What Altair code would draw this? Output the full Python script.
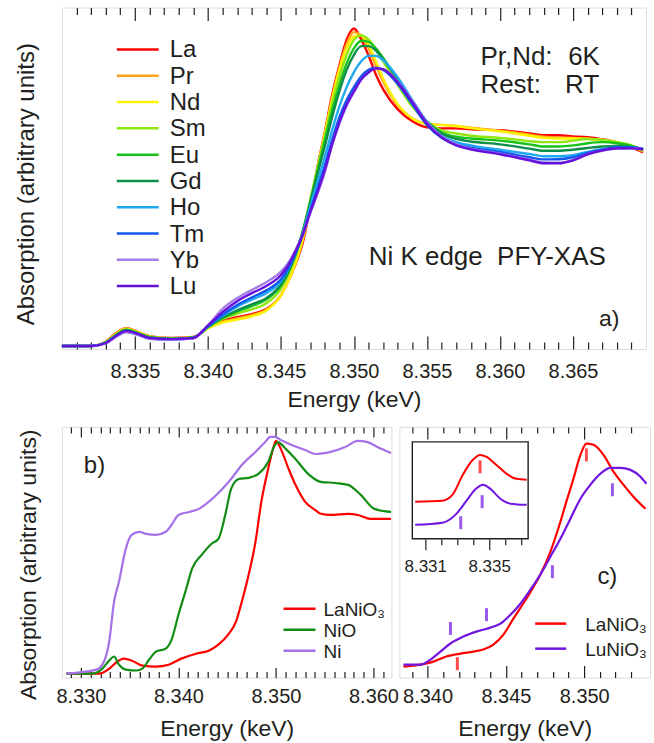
import altair as alt
import pandas as pd

FONT = "Liberation Sans"
INK = "#231f20"

# ---------------- panel a) : Ni K edge PFY-XAS of RNiO3 ----------------
TOP_SAMPLES = ["La", "Pr", "Nd", "Sm", "Eu", "Gd", "Ho", "Tm", "Yb", "Lu"]
TOP_COLORS = ["#ff0000", "#ffa21c", "#fff200", "#8ee80f", "#19c219", "#0b8f4a",
              "#1fa9f2", "#1257ee", "#a57fe8", "#6510dc"]
TOP_E = [8.3300, 8.3320, 8.3330, 8.3337, 8.3344, 8.3352, 8.3360, 8.3375, 8.3390,
         8.3400, 8.3410, 8.3420, 8.3430, 8.3440, 8.3450, 8.3455, 8.3460, 8.3465,
         8.3470, 8.3475, 8.3480, 8.3485, 8.3490, 8.3495, 8.3500, 8.3505, 8.3510,
         8.3515, 8.3520, 8.3530, 8.3540, 8.3550, 8.3560, 8.3570, 8.3580, 8.3600,
         8.3620, 8.3630, 8.3640, 8.3650, 8.3660, 8.3670, 8.3680, 8.3690, 8.3698]
A_LA = [0.0, 0.0, 0.02, 0.06, 0.083, 0.065, 0.046, 0.037, 0.042, 0.085, 0.116, 0.134,
        0.148, 0.171, 0.236, 0.30, 0.38, 0.48, 0.645, 0.83, 0.99, 1.162, 1.30, 1.42,
        1.472, 1.42, 1.347, 1.259, 1.19, 1.097, 1.042, 1.014, 1.009, 1.009, 1.005, 1.0,
        0.986, 0.977, 0.977, 0.972, 0.968, 0.958, 0.944, 0.921, 0.898]
A_PR = [0.0, 0.0, 0.019, 0.058, 0.082, 0.064, 0.045, 0.036, 0.041, 0.084, 0.112, 0.128,
        0.143, 0.168, 0.235, 0.30, 0.382, 0.49, 0.65, 0.825, 0.985, 1.15, 1.29, 1.40,
        1.455, 1.44, 1.38, 1.30, 1.225, 1.115, 1.055, 1.03, 1.025, 1.02, 1.012, 0.998,
        0.98, 0.97, 0.966, 0.965, 0.962, 0.955, 0.943, 0.925, 0.902]
A_ND = [0.0, 0.0, 0.018, 0.056, 0.08, 0.063, 0.045, 0.036, 0.04, 0.082, 0.108, 0.122,
        0.138, 0.165, 0.235, 0.30, 0.385, 0.50, 0.655, 0.82, 0.98, 1.14, 1.28, 1.38,
        1.435, 1.44, 1.395, 1.32, 1.24, 1.12, 1.055, 1.03, 1.025, 1.02, 1.01, 0.995,
        0.975, 0.965, 0.962, 0.962, 0.96, 0.955, 0.945, 0.928, 0.905]
A_SM = [0.0, 0.0, 0.017, 0.053, 0.077, 0.061, 0.043, 0.035, 0.04, 0.087, 0.125, 0.15,
        0.17, 0.198, 0.265, 0.33, 0.415, 0.53, 0.675, 0.825, 0.97, 1.12, 1.25, 1.35,
        1.42, 1.44, 1.42, 1.375, 1.32, 1.21, 1.11, 1.04, 1.0, 0.985, 0.975, 0.965,
        0.95, 0.945, 0.945, 0.952, 0.96, 0.955, 0.945, 0.93, 0.905]
A_EU = [0.0, 0.0, 0.016, 0.05, 0.075, 0.059, 0.041, 0.034, 0.04, 0.088, 0.13, 0.16,
        0.185, 0.215, 0.28, 0.34, 0.425, 0.535, 0.67, 0.81, 0.95, 1.09, 1.21, 1.31,
        1.38, 1.415, 1.41, 1.38, 1.335, 1.23, 1.12, 1.04, 0.99, 0.97, 0.962, 0.952,
        0.935, 0.925, 0.925, 0.93, 0.94, 0.945, 0.94, 0.928, 0.91]
A_GD = [0.0, 0.0, 0.016, 0.05, 0.074, 0.058, 0.04, 0.033, 0.039, 0.088, 0.132, 0.165,
        0.193, 0.222, 0.285, 0.345, 0.425, 0.53, 0.66, 0.795, 0.925, 1.06, 1.18, 1.28,
        1.35, 1.39, 1.39, 1.37, 1.33, 1.235, 1.13, 1.04, 0.985, 0.96, 0.948, 0.935,
        0.915, 0.905, 0.905, 0.91, 0.918, 0.925, 0.928, 0.922, 0.91]
A_HO = [0.0, 0.0, 0.015, 0.046, 0.068, 0.054, 0.036, 0.032, 0.038, 0.09, 0.14, 0.182,
        0.215, 0.245, 0.30, 0.355, 0.43, 0.525, 0.645, 0.76, 0.875, 1.0, 1.11, 1.2,
        1.27, 1.32, 1.345, 1.345, 1.325, 1.245, 1.14, 1.04, 0.975, 0.945, 0.93, 0.91,
        0.89, 0.88, 0.88, 0.885, 0.9, 0.912, 0.92, 0.92, 0.912]
A_TM = [0.0, 0.0, 0.014, 0.044, 0.066, 0.052, 0.035, 0.031, 0.037, 0.092, 0.145, 0.19,
        0.225, 0.258, 0.31, 0.36, 0.43, 0.515, 0.625, 0.73, 0.835, 0.955, 1.06, 1.14,
        1.2, 1.25, 1.28, 1.29, 1.28, 1.215, 1.12, 1.025, 0.965, 0.935, 0.92, 0.9,
        0.875, 0.865, 0.866, 0.875, 0.895, 0.91, 0.92, 0.92, 0.914]
A_YB = [0.0, 0.0, 0.012, 0.042, 0.065, 0.052, 0.034, 0.03, 0.036, 0.097, 0.172, 0.222,
        0.26, 0.296, 0.345, 0.385, 0.445, 0.52, 0.615, 0.705, 0.805, 0.93, 1.03, 1.115,
        1.178, 1.235, 1.268, 1.287, 1.283, 1.225, 1.135, 1.037, 0.972, 0.935, 0.915,
        0.892, 0.865, 0.851, 0.85, 0.862, 0.889, 0.905, 0.915, 0.917, 0.912]
A_LU = [0.0, 0.0, 0.014, 0.046, 0.07, 0.056, 0.037, 0.032, 0.037, 0.095, 0.157, 0.208,
        0.245, 0.278, 0.329, 0.375, 0.44, 0.518, 0.62, 0.713, 0.815, 0.935, 1.037, 1.12,
        1.18, 1.236, 1.269, 1.287, 1.282, 1.222, 1.13, 1.032, 0.968, 0.93, 0.912, 0.889,
        0.861, 0.847, 0.847, 0.861, 0.889, 0.907, 0.917, 0.917, 0.912]
TOP_SERIES = [A_LA, A_PR, A_ND, A_SM, A_EU, A_GD, A_HO, A_TM, A_YB, A_LU]
TOP_MAJOR = [8.335, 8.340, 8.345, 8.350, 8.355, 8.360, 8.365]
TOP_XDOM = [8.330, 8.370]
TOP_YDOM = [-0.014, 1.569]

# ---------------- panel b) : LaNiO3, NiO, Ni ----------------
B_SAMPLES = ["LaNiO\u2083", "NiO", "Ni"]
B_COLORS = ["#ff0000", "#128c12", "#a571e6"]
B_LANIO3_E = [8.3285, 8.3319, 8.3329, 8.3336, 8.3344, 8.3352, 8.3363, 8.3377, 8.3390,
              8.3403, 8.3418, 8.3431, 8.3441, 8.3451, 8.3459, 8.3465, 8.3472, 8.3479,
              8.3485, 8.3492, 8.3497, 8.3500, 8.3505, 8.3513, 8.3520, 8.3530, 8.3540,
              8.3546, 8.3556, 8.3574, 8.3584, 8.3597, 8.3618]
B_LANIO3_A = [0.0, 0.0, 0.021, 0.047, 0.064, 0.056, 0.034, 0.03, 0.038, 0.064, 0.085,
              0.098, 0.124, 0.167, 0.222, 0.308, 0.423, 0.564, 0.735, 0.876, 0.962, 0.996,
              0.962, 0.876, 0.808, 0.735, 0.701, 0.684, 0.679, 0.684, 0.679, 0.662, 0.662]
B_NIO_E = [8.3285, 8.3312, 8.3322, 8.3329, 8.3334, 8.3339, 8.3346, 8.3357, 8.3363,
           8.3370, 8.3377, 8.3387, 8.3393, 8.3400, 8.3408, 8.3414, 8.3424, 8.3434,
           8.3441, 8.3448, 8.3454, 8.3462, 8.3472, 8.3482, 8.3492, 8.3499, 8.3502,
           8.3510, 8.3520, 8.3533, 8.3546, 8.3561, 8.3574, 8.3587, 8.3601, 8.3618]
B_NIO_A = [0.0, 0.0, 0.021, 0.056, 0.073, 0.038, 0.017, 0.013, 0.021, 0.06, 0.094, 0.107,
           0.145, 0.252, 0.363, 0.449, 0.509, 0.556, 0.577, 0.679, 0.791, 0.833, 0.838,
           0.855, 0.906, 0.979, 0.991, 0.962, 0.919, 0.855, 0.821, 0.816, 0.808, 0.765,
           0.705, 0.692]
B_NI_E = [8.3285, 8.3316, 8.3322, 8.3329, 8.3334, 8.3339, 8.3346, 8.3352, 8.3360,
          8.3367, 8.3377, 8.3387, 8.3393, 8.3400, 8.3411, 8.3421, 8.3431, 8.3444,
          8.3454, 8.3465, 8.3479, 8.3489, 8.3494, 8.3499, 8.3505, 8.3516, 8.3530,
          8.3541, 8.3556, 8.3571, 8.3584, 8.3594, 8.3604, 8.3618]
B_NI_A = [0.0, 0.017, 0.038, 0.137, 0.308, 0.393, 0.534, 0.594, 0.607, 0.598, 0.594,
          0.607, 0.637, 0.679, 0.692, 0.705, 0.735, 0.786, 0.833, 0.893, 0.949, 0.991,
          1.013, 1.013, 1.0, 0.979, 0.957, 0.94, 0.949, 0.97, 0.996, 0.991, 0.97, 0.944]
B_MAJOR = [8.330, 8.340, 8.350, 8.360]
B_XDOM = [8.32805, 8.36184]
B_YDOM = [-0.017, 1.056]

# ---------------- panel c) : LaNiO3 vs LuNiO3 ----------------
C_SAMPLES = ["LaNiO\u2083", "LuNiO\u2083"]
C_COLORS = ["#ff0000", "#7014e0"]
C_LA_E = [8.33846, 8.33954, 8.34037, 8.34120, 8.34210, 8.34293, 8.34356, 8.34420,
          8.34484, 8.34548, 8.34631, 8.34720, 8.34784, 8.34848, 8.34886, 8.34931,
          8.34976, 8.35014, 8.35059, 8.35123, 8.35187, 8.35250, 8.35314, 8.35391]
C_LA_A = [0.0, 0.009, 0.022, 0.045, 0.058, 0.067, 0.076, 0.098, 0.143, 0.214, 0.304,
          0.411, 0.513, 0.647, 0.737, 0.839, 0.946, 0.996, 0.991, 0.946, 0.871, 0.813,
          0.759, 0.705]
C_LU_E = [8.33846, 8.33954, 8.34018, 8.34082, 8.34146, 8.34229, 8.34312, 8.34401,
          8.34465, 8.34529, 8.34593, 8.34657, 8.34720, 8.34784, 8.34848, 8.34912,
          8.34976, 8.35040, 8.35104, 8.35167, 8.35231, 8.35295, 8.35359, 8.35397]
C_LU_A = [0.009, 0.009, 0.031, 0.067, 0.103, 0.134, 0.156, 0.174, 0.192, 0.232, 0.281,
          0.344, 0.411, 0.491, 0.571, 0.661, 0.75, 0.813, 0.862, 0.888, 0.888, 0.879,
          0.848, 0.817]
C_MARK_E = [8.35014, 8.34190, 8.35180, 8.34797, 8.34376, 8.34146]
C_MARK_A = [0.946, 0.013, 0.79, 0.424, 0.232, 0.17]
C_MARK_S = ["LaNiO\u2083", "LaNiO\u2083", "LuNiO\u2083", "LuNiO\u2083", "LuNiO\u2083", "LuNiO\u2083"]
C_MAJOR = [8.340, 8.345, 8.350]
C_XDOM = [8.3382, 8.3542]
C_YDOM = [-0.049, 1.071]

# inset of panel c) : pre-edge (same arbitrary absorption units as panel c)
INS_LA_E = [8.33037, 8.33208, 8.33271, 8.33335, 8.33398, 8.33443, 8.33481, 8.33544,
            8.33608, 8.33671, 8.33735]
INS_LA_A = [0.737, 0.741, 0.768, 0.857, 0.924, 0.946, 0.938, 0.902, 0.862, 0.839, 0.835]
INS_LU_E = [8.33037, 8.33208, 8.33290, 8.33354, 8.33417, 8.33462, 8.33506, 8.33570,
            8.33633, 8.33735]
INS_LU_A = [0.634, 0.643, 0.679, 0.737, 0.795, 0.813, 0.795, 0.75, 0.728, 0.723]
INS_MARK_E = [8.33443, 8.33456, 8.33322]
INS_MARK_A = [0.893, 0.737, 0.643]
INS_MARK_S = ["LaNiO\u2083", "LuNiO\u2083", "LuNiO\u2083"]
INS_MAJOR = [8.331, 8.335]
INS_BOX_E = [8.33019, 8.33744]
INS_BOX_A = [0.571, 1.004]
INS_XDOM = [8.32938, 8.34507]   # 16 px per eV; inset box spans 13..129 px of panel c

Y_TITLE = "Absorption (arbitrary units)"
X_TITLE = "Energy (keV)"


def minor_ticks(lo, hi, majors):
    out = []
    k = int(round(lo * 1000))
    while k <= int(round(hi * 1000)):
        v = round(k / 1000.0, 3)
        if all(abs(v - m) > 1e-7 for m in majors):
            out.append(v)
        k += 1
    return out


def frame_from(energies_list, values_list, names):
    rows = []
    for name, es, vs in zip(names, energies_list, values_list):
        for e, a in zip(es, vs):
            rows.append({"E": e, "A": a, "Sample": name})
    return pd.DataFrame(rows)


def axis_layer(vals, xscale, yscale, ybase, orient, size, offset, labels=False, title=None,
               label_size=20, label_pad=10, title_size=23, title_pad=8):
    kw = dict(orient=orient, values=vals, tickSize=size, offset=offset, domain=False,
              grid=False, ticks=True, tickColor=INK, tickWidth=1.2, labels=labels,
              minExtent=0)
    if labels:
        kw.update(format=".3f", labelFont=FONT, labelFontSize=label_size, labelColor=INK,
                  labelPadding=label_pad, labelFlush=False, labelOverlap=False)
    if title:
        kw.update(titleFont=FONT, titleFontSize=title_size, titleFontWeight="normal",
                  titleColor=INK, titlePadding=title_pad)
    df = pd.DataFrame({"tick": vals, "base": [ybase] * len(vals)})
    return alt.Chart(df).mark_point(opacity=0).encode(
        x=alt.X("tick:Q", scale=xscale, axis=alt.Axis(**kw), title=title),
        y=alt.Y("base:Q", scale=yscale, axis=None),
    )


def note(text, e, a, size, xscale, yscale, angle=0, align="left", baseline="alphabetic"):
    df = pd.DataFrame({"t": [text], "E": [e], "A": [a]})
    return alt.Chart(df).mark_text(
        font=FONT, fontSize=size, color=INK, align=align, baseline=baseline, angle=angle
    ).encode(
        text="t:N",
        x=alt.X("E:Q", scale=xscale, axis=None),
        y=alt.Y("A:Q", scale=yscale, axis=None),
    )


def key_layers(names, cscale, e_from, e_to, e_text, a_first, a_step, size, xscale, yscale):
    """Line-sample key drawn in the panel's own coordinates."""
    df = pd.DataFrame({
        "Sample": names,
        "E1": [e_from] * len(names),
        "E2": [e_to] * len(names),
        "ET": [e_text] * len(names),
        "A": [a_first - i * a_step for i in range(len(names))],
    })
    rules = alt.Chart(df).mark_rule(strokeWidth=2.5).encode(
        x=alt.X("E1:Q", scale=xscale, axis=None),
        x2="E2:Q",
        y=alt.Y("A:Q", scale=yscale, axis=None),
        color=alt.Color("Sample:N", scale=cscale, legend=None),
    )
    texts = alt.Chart(df).mark_text(
        font=FONT, fontSize=size, color=INK, align="left", baseline="middle", dy=1
    ).encode(
        text="Sample:N",
        x=alt.X("ET:Q", scale=xscale, axis=None),
        y=alt.Y("A:Q", scale=yscale, axis=None),
    )
    return [rules, texts]


# ---------------- build panel a) ----------------
top_df = frame_from([TOP_E] * len(TOP_SAMPLES), TOP_SERIES, TOP_SAMPLES)
top_x = alt.Scale(domain=TOP_XDOM, nice=False, zero=False)
top_y = alt.Scale(domain=TOP_YDOM, nice=False, zero=False)
top_c = alt.Scale(domain=TOP_SAMPLES, range=TOP_COLORS)
top_lines = alt.Chart(top_df).mark_line(strokeWidth=2.4, interpolate="monotone").encode(
    x=alt.X("E:Q", scale=top_x, axis=None),
    y=alt.Y("A:Q", scale=top_y, axis=None),
    color=alt.Color("Sample:N", scale=top_c, legend=None),
)
top_minor = minor_ticks(8.331, 8.369, TOP_MAJOR)
yb = TOP_YDOM[0]
top = alt.layer(
    top_lines,
    *key_layers(TOP_SAMPLES, top_c, 8.33376, 8.33663, 8.33738, 1.3746, 0.12188, 24,
                top_x, top_y),
    axis_layer(TOP_MAJOR, top_x, top_y, yb, "bottom", 13, -13, labels=True,
               title=X_TITLE, label_pad=13, title_pad=7),
    axis_layer(top_minor, top_x, top_y, yb, "bottom", 7, -7),
    axis_layer(TOP_MAJOR, top_x, top_y, yb, "top", 13, -13),
    axis_layer(top_minor, top_x, top_y, yb, "top", 7, -7),
    note("Pr,Nd:", 8.35866, 1.301, 26, top_x, top_y),
    note("6K", 8.36467, 1.301, 26, top_x, top_y),
    note("Rest:", 8.35866, 1.171, 26, top_x, top_y),
    note("RT", 8.36446, 1.171, 26, top_x, top_y),
    note("Ni K edge\u00a0\u00a0PFY-XAS", 8.35101, 0.375, 26, top_x, top_y),
    note("a)", 8.36678, 0.093, 23, top_x, top_y),
    note(Y_TITLE, 8.32761, 0.75, 24, top_x, top_y, angle=270, align="center",
         baseline="middle"),
).resolve_axis(x="independent").properties(width=585, height=342, name="pa")

# ---------------- build panel b) ----------------
b_df = frame_from([B_LANIO3_E, B_NIO_E, B_NI_E], [B_LANIO3_A, B_NIO_A, B_NI_A], B_SAMPLES)
b_x = alt.Scale(domain=B_XDOM, nice=False, zero=False)
b_y = alt.Scale(domain=B_YDOM, nice=False, zero=False)
b_c = alt.Scale(domain=B_SAMPLES, range=B_COLORS)
b_lines = alt.Chart(b_df).mark_line(strokeWidth=2.2, interpolate="monotone").encode(
    x=alt.X("E:Q", scale=b_x, axis=None),
    y=alt.Y("A:Q", scale=b_y, axis=None),
    color=alt.Color("Sample:N", scale=b_c, legend=None),
)
b_minor = minor_ticks(8.329, 8.361, B_MAJOR)
yb = B_YDOM[0]
panel_b = alt.layer(
    b_lines,
    *key_layers(B_SAMPLES, b_c, 8.35078, 8.35406, 8.35488, 0.278, 0.09, 19, b_x, b_y),
    axis_layer(B_MAJOR, b_x, b_y, yb, "bottom", 10, -10, labels=True, title=X_TITLE,
               label_pad=9, title_pad=11),
    axis_layer(b_minor, b_x, b_y, yb, "bottom", 6, -6),
    axis_layer(B_MAJOR, b_x, b_y, yb, "top", 10, -10),
    axis_layer(b_minor, b_x, b_y, yb, "top", 6, -6),
    note("b)", 8.33030, 0.857, 24, b_x, b_y),
    note(Y_TITLE, 8.32467, 0.466, 23, b_x, b_y, angle=270, align="center",
         baseline="middle"),
).resolve_axis(x="independent").properties(width=330, height=251, name="pb")

# ---------------- build panel c) (with pre-edge inset) ----------------
c_df = frame_from([C_LA_E, C_LU_E], [C_LA_A, C_LU_A], C_SAMPLES)
c_x = alt.Scale(domain=C_XDOM, nice=False, zero=False)
c_y = alt.Scale(domain=C_YDOM, nice=False, zero=False)
c_color = alt.Scale(domain=C_SAMPLES, range=C_COLORS)
ins_x = alt.Scale(domain=INS_XDOM, nice=False, zero=False)

c_lines = alt.Chart(c_df).mark_line(strokeWidth=2.2, interpolate="monotone").encode(
    x=alt.X("E:Q", scale=c_x, axis=None),
    y=alt.Y("A:Q", scale=c_y, axis=None),
    color=alt.Color("Sample:N", scale=c_color, legend=None),
)
c_marks = alt.Chart(pd.DataFrame({"E": C_MARK_E, "A": C_MARK_A, "Sample": C_MARK_S})).mark_tick(
    orient="vertical", thickness=3, size=13
).encode(
    x=alt.X("E:Q", scale=c_x, axis=None),
    y=alt.Y("A:Q", scale=c_y, axis=None),
    color=alt.Color("Sample:N", scale=c_color, legend=None),
)
ins_df = frame_from([INS_LA_E, INS_LU_E], [INS_LA_A, INS_LU_A], C_SAMPLES)
ins_frame = alt.Chart(pd.DataFrame({"E": [INS_BOX_E[0]], "E2": [INS_BOX_E[1]],
                                    "A": [INS_BOX_A[0]], "A2": [INS_BOX_A[1]]})).mark_rect(
    fillOpacity=0, stroke=INK, strokeWidth=1.4
).encode(
    x=alt.X("E:Q", scale=ins_x, axis=None),
    x2="E2:Q",
    y=alt.Y("A:Q", scale=c_y, axis=None),
    y2="A2:Q",
)
ins_lines = alt.Chart(ins_df).mark_line(strokeWidth=2.0, interpolate="monotone").encode(
    x=alt.X("E:Q", scale=ins_x, axis=None),
    y=alt.Y("A:Q", scale=c_y, axis=None),
    color=alt.Color("Sample:N", scale=c_color, legend=None),
)
ins_marks = alt.Chart(pd.DataFrame({"E": INS_MARK_E, "A": INS_MARK_A, "Sample": INS_MARK_S})).mark_tick(
    orient="vertical", thickness=3, size=13
).encode(
    x=alt.X("E:Q", scale=ins_x, axis=None),
    y=alt.Y("A:Q", scale=c_y, axis=None),
    color=alt.Color("Sample:N", scale=c_color, legend=None),
)
c_minor = minor_ticks(8.339, 8.353, C_MAJOR)
ins_minor = minor_ticks(8.331, 8.337, INS_MAJOR)
yb = C_YDOM[0]
panel_c = alt.layer(
    c_lines,
    c_marks,
    *key_layers(C_SAMPLES, c_color, 8.34687, 8.34885, 8.35006, 0.192, 0.112, 19, c_x, c_y),
    axis_layer(C_MAJOR, c_x, c_y, yb, "bottom", 12, -12, labels=True, title=X_TITLE,
               label_pad=9, title_pad=11),
    axis_layer(c_minor, c_x, c_y, yb, "bottom", 6, -6),
    axis_layer(C_MAJOR, c_x, c_y, yb, "top", 12, -12),
    axis_layer(c_minor, c_x, c_y, yb, "top", 6, -6),
    ins_frame,
    ins_lines,
    ins_marks,
    axis_layer(INS_MAJOR, ins_x, c_y, yb, "bottom", 11, -139, labels=True, label_size=17,
               label_pad=9),
    axis_layer(ins_minor, ins_x, c_y, yb, "bottom", 6, -139),
    note("c)", 8.35084, 0.371, 24, c_x, c_y),
).resolve_scale(x="independent").resolve_axis(x="independent").properties(
    width=251, height=251, name="pc")

bottom = alt.hconcat(panel_b, panel_c, spacing=8, bounds="flush").resolve_scale(
    color="independent")
chart = alt.vconcat(top, bottom, spacing=78, bounds="flush").resolve_scale(
    color="independent"
).properties(padding={"left": 14, "top": 5, "right": 2, "bottom": 2})
chart = chart.configure_view(stroke=INK, strokeWidth=1.4).configure(font=FONT)

chart.save("out.html", embed_options={"renderer": "svg", "actions": False})
